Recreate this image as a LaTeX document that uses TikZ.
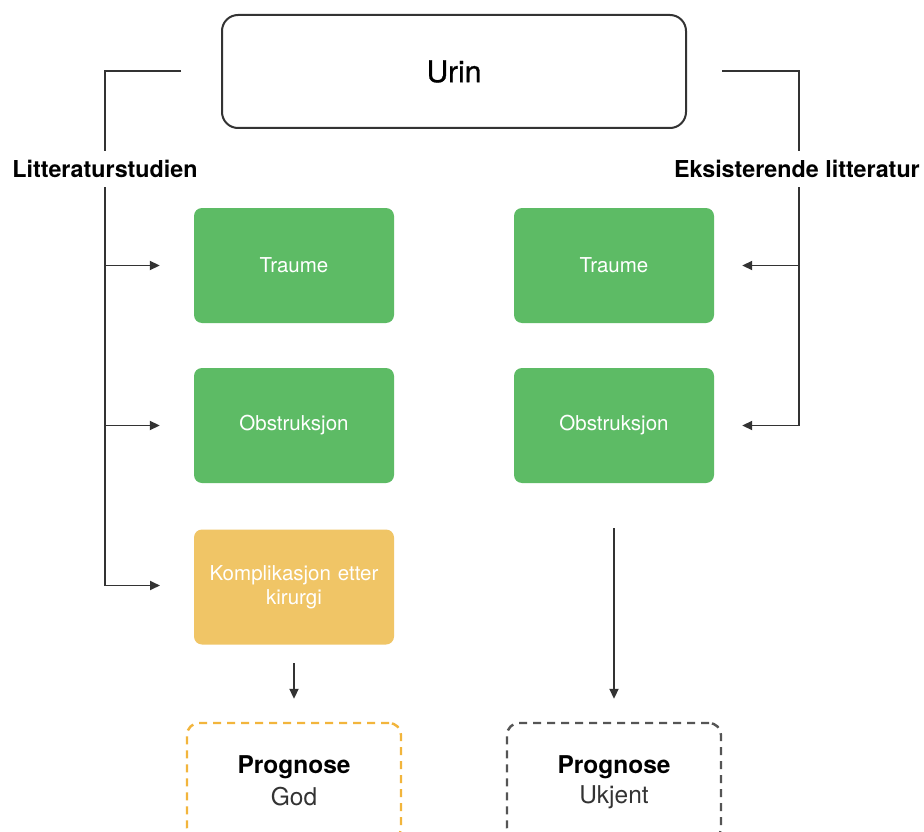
\documentclass[tikz,border=0pt]{standalone}
\usepackage{fontspec}
\setmainfont{TeX Gyre Heros}
\newfontfamily\mediumfont[FakeBold=0.8]{TeX Gyre Heros}
\usetikzlibrary{arrows.meta}
\definecolor{boxgreen}{HTML}{5DBB65}
\definecolor{boxyellow}{HTML}{F0C566}
\definecolor{dashorange}{HTML}{F2B53C}
\definecolor{dashgrey}{HTML}{555555}
\definecolor{linegrey}{HTML}{333333}
\begin{document}
\begin{tikzpicture}[x=1pt,y=-1pt,
  conn/.style={draw=linegrey,line width=1.9pt},
  arr/.style={conn,-{Triangle[length=10pt,width=9pt]}},
  catbox/.style={rectangle,rounded corners=8pt,minimum width=200pt,minimum height=115pt,
    text=white,font=\fontsize{20.5}{24}\selectfont,align=center,text width=190pt,inner sep=0pt},
  greenbox/.style={catbox,fill=boxgreen},
  yellowbox/.style={catbox,fill=boxyellow},
  progbox/.style={rectangle,rounded corners=12pt,minimum width=214pt,minimum height=117pt,
    line width=2.4pt,dash pattern=on 8pt off 6pt,align=center,inner sep=0pt},
  sidelabel/.style={font=\bfseries\fontsize{23.3}{27}\selectfont,inner sep=0pt,minimum height=36pt},
  progtitle/.style={font=\bfseries\fontsize{24.5}{28}\selectfont},
  progvalue/.style={font=\fontsize{24.5}{28}\selectfont,text=linegrey}
]
\clip (0,0) rectangle (924,832);
\fill[white] (0,0) rectangle (924,832);

% top box
\node[draw=linegrey,line width=2pt,rounded corners=16pt,minimum width=464pt,minimum height=113pt,
  font=\mediumfont\fontsize{30}{36}\selectfont] (urin) at (454,71.5) {Urin};

% side labels
\node[sidelabel] (lit) at (105,169) {Litteraturstudien};
\node[sidelabel,anchor=east] (eks) at (920,169) {Eksisterende litteratur};
\coordinate (lstart) at (181,71);
\coordinate (rstart) at (722,71);
\coordinate (rx) at (799,169);

% category boxes
\node[greenbox] (lt) at (294,265.5) {Traume};
\node[greenbox] (lo) at (294,425.5) {Obstruksjon};
\node[yellowbox] (lk) at (294,587) {Komplikasjon etter\\kirurgi};
\node[greenbox] (rt) at (614,265.5) {Traume};
\node[greenbox] (ro) at (614,425.5) {Obstruksjon};

% prognosis boxes
\node[progbox,draw=dashorange] (pg) at (294,781.5) {};
\node[progbox,draw=dashgrey] (pu) at (614,781.5) {};
\node[progtitle] (pgt) at (294,767) {Prognose};
\node[progvalue] (pgv) at (294,797) {God};
\node[progtitle] (put) at (614,767) {Prognose};
\node[progvalue] (puv) at (614,797) {Ukjent};

% left branch
\draw[conn] (lstart) -| (lit.north);
\draw[conn] (lit.south) -- (lit.south |- 0,585.5);
\draw[arr] (lit.south |- lt.west) -- ([xshift=-34pt]lt.west);
\draw[arr] (lit.south |- lo.west) -- ([xshift=-34pt]lo.west);
\draw[arr] (lit.south |- 0,585.5) -- (160,585.5);

% right branch
\draw[conn] (rstart) -| (rx |- eks.north);
\draw[conn] (rx |- eks.south) -- (rx |- ro.east);
\draw[arr] (rx |- rt.east) -- ([xshift=28pt]rt.east);
\draw[arr] (rx |- ro.east) -- ([xshift=28pt]ro.east);

% outcomes
\draw[arr] (294,663) -- ([yshift=23pt]pg.north);
\draw[arr] ([yshift=-45pt]ro.south) -- ([yshift=23pt]pu.north);
\end{tikzpicture}
\end{document}
